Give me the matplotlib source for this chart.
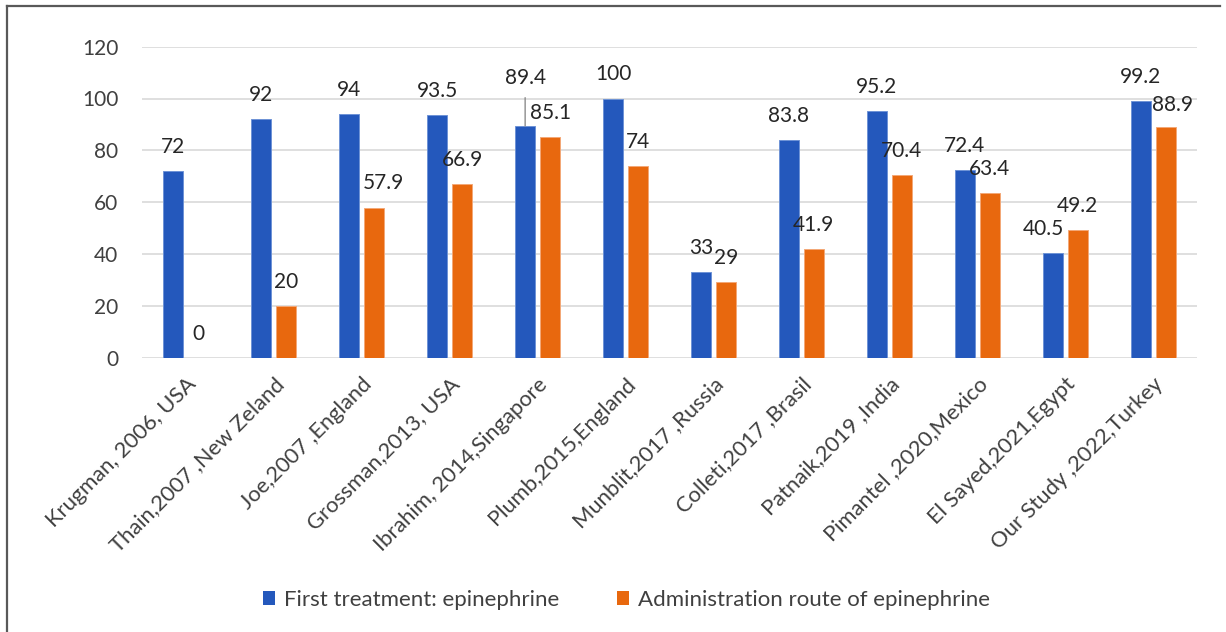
import matplotlib
matplotlib.use("Agg")
import matplotlib.pyplot as plt
from matplotlib.patches import Patch
from matplotlib.lines import Line2D
import numpy as np

# Study labels and the two measured percentages
studies = [
    "Krugman, 2006, USA",
    "Thain,2007 ,New Zeland",
    "Joe,2007 ,England",
    "Grossman,2013, USA",
    "Ibrahim, 2014,Singapore",
    "Plumb,2015,England",
    "Munblit,2017 ,Russia",
    "Colleti,2017 ,Brasil",
    "Patnaik,2019 ,India",
    "Pimantel ,2020,Mexico",
    "El Sayed,2021,Egypt",
    "Our Study ,2022,Turkey",
]
first_treatment = [72, 92, 94, 93.5, 89.4, 100, 33, 83.8, 95.2, 72.4, 40.5, 99.2]
admin_route = [0, 20, 57.9, 66.9, 85.1, 74, 29, 41.9, 70.4, 63.4, 49.2, 88.9]
series_names = ["First treatment: epinephrine", "Administration route of epinephrine"]
y_ticks = [0, 20, 40, 60, 80, 100, 120]

BLUE = "#2458BC"
ORANGE = "#E8680E"
TEXT = "#404040"
LABEL = "#262626"
FONT = "Lato"

plt.rcParams["font.family"] = [FONT, "DejaVu Sans"]

W, H = 1226, 632
fig = plt.figure(figsize=(W / 100, H / 100), dpi=100)
left, right, top, bottom = 142, 1197, 46.7, 357.5
ax = fig.add_axes([left / W, 1 - bottom / H, (right - left) / W, (bottom - top) / H])

x = np.arange(len(studies))
bw = 0.2275
off = 0.142
ax.bar(x - off, first_treatment, bw, color=BLUE, edgecolor="#6E93D6",
       linewidth=0.7, zorder=3)
ax.bar(x + off, admin_route, bw, color=ORANGE, edgecolor="#F4A877",
       linewidth=0.7, zorder=3)

ax.set_xlim(-0.5, len(studies) - 0.5)
ax.set_ylim(0, 120)
ax.set_yticks(y_ticks)
ax.yaxis.grid(True, color="#D9D9D9", linewidth=1.2, zorder=0)
ax.set_axisbelow(True)
for s in ax.spines.values():
    s.set_visible(False)
ax.tick_params(axis="y", length=0, pad=17, labelsize=15, labelcolor=TEXT)
ax.tick_params(axis="x", length=0, pad=12, labelsize=15.8, labelcolor=TEXT)
ax.set_xticks(x)
ax.set_xticklabels(studies, rotation=45, ha="right", va="top",
                   rotation_mode="anchor")

# value labels: default sits 24 px above the bar top, a few are nudged
nudge_first = {4: (0, 48), 10: (-9, 24)}
nudge_admin = {2: (9, 25), 11: (7, 22)}

for i, v in enumerate(first_treatment):
    dx, dy = nudge_first.get(i, (0, 24))
    extra = {}
    if i == 4:
        extra["arrowprops"] = dict(arrowstyle="-", color="#8C8C8C", lw=1.0,
                                   shrinkA=5, shrinkB=0)
    ax.annotate(f"{v:g}", xy=(x[i] - off, v), xytext=(dx, dy),
                textcoords="offset pixels", ha="center", va="center",
                fontsize=15, color=LABEL, zorder=5, **extra)

for i, v in enumerate(admin_route):
    dx, dy = nudge_admin.get(i, (0, 24))
    ax.annotate(f"{v:g}", xy=(x[i] + off, v), xytext=(dx, dy),
                textcoords="offset pixels", ha="center", va="center",
                fontsize=15, color=LABEL, zorder=5)

handles = [Patch(facecolor=BLUE, edgecolor="none"),
           Patch(facecolor=ORANGE, edgecolor="none")]
fig.legend(handles, series_names, loc="center", bbox_to_anchor=(626.5 / W, 1 - 600 / H),
           ncol=2, frameon=False, fontsize=16, labelcolor=TEXT,
           handlelength=0.56, handleheight=0.56, handletextpad=0.4,
           columnspacing=2.6)

# outer frame (left and top edges)
fig.add_artist(Line2D([6.5 / W, 6.5 / W], [0, 1 - 5.5 / H], transform=fig.transFigure,
                      color="#595959", linewidth=1.6))
fig.add_artist(Line2D([6.5 / W, 1220 / W], [1 - 5.5 / H, 1 - 5.5 / H],
                      transform=fig.transFigure, color="#595959", linewidth=1.6))

fig.savefig("out.png", dpi=100, facecolor="white")
